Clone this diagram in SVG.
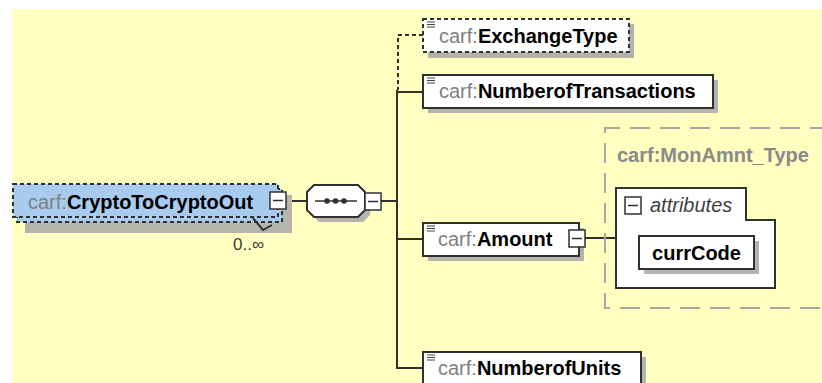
<svg xmlns="http://www.w3.org/2000/svg" width="822" height="383" viewBox="0 0 822 383">
<style>
.bg{fill:#FFFFC0}
.shadow{fill:#B4B4AC}
.box{fill:#FFFFFF;stroke:#303030;stroke-width:2}
.dbox{fill:#FFFFFF;stroke:#303030;stroke-width:2;stroke-dasharray:4 3}
.blue{fill:#A9CBF0;stroke:#303030;stroke-width:2;stroke-dasharray:4 3}
.line{fill:none;stroke:#303030;stroke-width:2}
.dline{fill:none;stroke:#303030;stroke-width:2;stroke-dasharray:4 3}
.icon{stroke:#404040;stroke-width:1}
.t{font-family:"Liberation Sans",Arial,sans-serif;font-size:20px}
.ns{fill:#808080;font-weight:normal}
.nm{fill:#000000;font-weight:bold}
.type{fill:none;stroke:#A8A8A0;stroke-width:2;stroke-dasharray:20 10}
.gray{fill:#8A8A8A;font-weight:bold}
</style>
<defs>
<g id="minus">
<rect x="0" y="0" width="16" height="17" fill="#FFFFFF" stroke="#303030" stroke-width="1.5"/>
<line x1="3" y1="8.5" x2="13" y2="8.5" stroke="#303030" stroke-width="1.5"/>
</g>
<g id="lines">
<line x1="4" y1="3" x2="12" y2="3" class="icon"/>
<line x1="4" y1="5.5" x2="12" y2="5.5" class="icon"/>
<line x1="4" y1="8" x2="12" y2="8" class="icon"/>
</g>
</defs>
<rect x="12" y="9" width="810" height="374" class="bg"/>

<g id="connectors">
<line x1="286" y1="201" x2="307" y2="201" class="line"/>
<line x1="381" y1="201" x2="397" y2="201" class="line"/>
<path d="M423,35 H398 V90" class="dline"/>
<path d="M397,90 V368 H423" class="line"/>
<line x1="397" y1="92" x2="423" y2="92" class="line"/>
<line x1="397" y1="239" x2="423" y2="239" class="line"/>
<line x1="585" y1="238" x2="616" y2="238" class="line"/>
</g>

<g id="CryptoToCryptoOut">
<rect x="25" y="195" width="267" height="38" class="shadow"/>
<rect x="17" y="189" width="265" height="33" class="blue"/>
<rect x="13" y="184" width="265" height="33" class="blue"/>
<polyline points="253,218 263,230 272,225" class="line" stroke-width="1.5"/>
<text x="28" y="209" class="t"><tspan class="ns">carf:</tspan><tspan class="nm">CryptoToCryptoOut</tspan></text>
<use href="#minus" x="270" y="192"/>
<text x="233" y="250" class="t" font-size="17" fill="#404040" style="font-size:17px">0..∞</text>
</g>

<g id="sequence">
<polygon points="319,190 363,190 370,197 370,215 363,222 319,222 312,215 312,197" class="shadow"/>
<polygon points="314,185 358,185 365,192 365,210 358,217 314,217 307,210 307,192" class="box"/>
<line x1="315" y1="201" x2="357" y2="201" stroke="#303030" stroke-width="1.5"/>
<circle cx="327" cy="201" r="2.8" fill="#303030"/>
<circle cx="335.5" cy="201" r="2.8" fill="#303030"/>
<circle cx="344" cy="201" r="2.8" fill="#303030"/>
<use href="#minus" x="365" y="193"/>
</g>

<g id="ExchangeType">
<rect x="428" y="24" width="206" height="34" class="shadow"/>
<rect x="423" y="19" width="206" height="33" class="dbox"/>
<use href="#lines" x="423" y="19"/>
<text x="439" y="43" class="t"><tspan class="ns">carf:</tspan><tspan class="nm">ExchangeType</tspan></text>
</g>

<g id="NumberofTransactions">
<rect x="428" y="80" width="290" height="33" class="shadow"/>
<rect x="423" y="75" width="290" height="33" class="box"/>
<use href="#lines" x="423" y="75"/>
<text x="439" y="98" class="t"><tspan class="ns">carf:</tspan><tspan class="nm">NumberofTransactions</tspan></text>
</g>

<g id="Amount">
<rect x="428" y="228" width="156" height="33" class="shadow"/>
<rect x="423" y="223" width="156" height="33" class="box"/>
<use href="#lines" x="423" y="223"/>
<text x="438" y="246" class="t"><tspan class="ns">carf:</tspan><tspan class="nm">Amount</tspan></text>
<use href="#minus" x="569" y="230"/>
</g>

<g id="MonAmnt_Type">
<path d="M830,128 H605 V308 H830" class="type"/>
<text x="617" y="162" class="t gray">carf:MonAmnt_Type</text>
</g>

<g id="attributes">
<path d="M616,188 H746 V220 H775 V288 H616 Z" class="box"/>
<use href="#minus" x="625" y="197"/>
<text x="650" y="212" class="t" fill="#404040" font-style="italic">attributes</text>
</g>

<g id="currCode">
<rect x="644" y="241" width="115" height="33" class="shadow"/>
<rect x="639" y="236" width="115" height="33" class="box"/>
<text x="696.5" y="260" class="t nm" text-anchor="middle">currCode</text>
</g>

<g id="NumberofUnits">
<rect x="428" y="357" width="218" height="33" class="shadow"/>
<rect x="423" y="352" width="218" height="33" class="box"/>
<use href="#lines" x="423" y="352"/>
<text x="438" y="375" class="t"><tspan class="ns">carf:</tspan><tspan class="nm">NumberofUnits</tspan></text>
</g>
</svg>
